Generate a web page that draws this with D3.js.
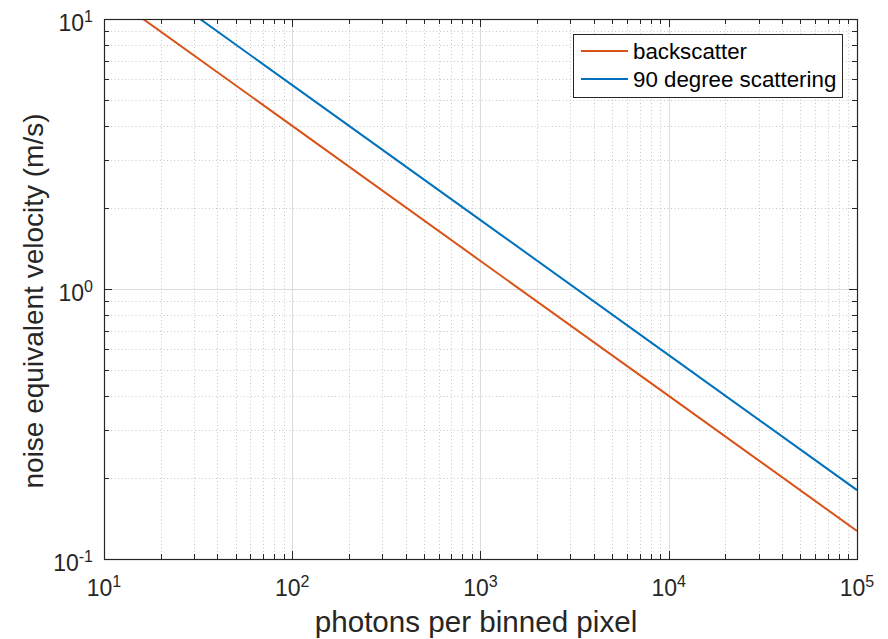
<!DOCTYPE html>
<html><head><meta charset="utf-8">
<script src="https://cdn.jsdelivr.net/npm/d3@7"></script>
<style>
html,body{margin:0;padding:0;background:#fff;}
svg{display:block;font-family:"Liberation Sans",Arial,sans-serif;}
</style></head>
<body><svg id="chart" width="888" height="639"></svg>
<script>
// data
const photons = [10, 100, 1000, 10000, 100000];
const backscatter = [12.7, 4.02, 1.27, 0.402, 0.127];
const scattering90 = [18.0, 5.69, 1.80, 0.569, 0.180];
const seriesNames = ["backscatter", "90 degree scattering"];
const seriesColors = ["#D95319", "#0072BD"];
const xTickExps = [1, 2, 3, 4, 5];
const yTickExps = [-1, 0, 1];

const W = 888, H = 639;
const m = {left: 104, right: 857, top: 19, bottom: 559};
const svg = d3.select("#chart");
const x = d3.scaleLog().domain([10, 1e5]).range([m.left, m.right]);
const y = d3.scaleLog().domain([0.1, 10]).range([m.bottom, m.top]);
const axisColor = "#262626";

// minor values
const xMinor = [], yMinor = [];
for (let e = 1; e < 5; e++) for (let k = 2; k <= 9; k++) xMinor.push(k * Math.pow(10, e));
for (let e = -1; e < 1; e++) for (let k = 2; k <= 9; k++) yMinor.push(k * Math.pow(10, e));
const xMajor = xTickExps.map(e => Math.pow(10, e));
const yMajor = yTickExps.map(e => Math.pow(10, e));

const g = svg.append("g");
// minor grid
g.selectAll(".xmg").data(xMinor).enter().append("line")
  .attr("x1", d => Math.round(x(d)) + 0.5).attr("x2", d => Math.round(x(d)) + 0.5)
  .attr("y1", m.top).attr("y2", m.bottom)
  .attr("stroke", "#c8c8c8").attr("stroke-width", 1).attr("stroke-dasharray", "1,2.5");
g.selectAll(".ymg").data(yMinor).enter().append("line")
  .attr("y1", d => Math.round(y(d)) + 0.5).attr("y2", d => Math.round(y(d)) + 0.5)
  .attr("x1", m.left).attr("x2", m.right)
  .attr("stroke", "#c8c8c8").attr("stroke-width", 1).attr("stroke-dasharray", "1,2.5");
// major grid
g.selectAll(".xMg").data(xMajor).enter().append("line")
  .attr("x1", d => Math.round(x(d)) + 0.5).attr("x2", d => Math.round(x(d)) + 0.5)
  .attr("y1", m.top).attr("y2", m.bottom)
  .attr("stroke", "#dcdcdc").attr("stroke-width", 1);
g.selectAll(".yMg").data(yMajor).enter().append("line")
  .attr("y1", d => Math.round(y(d)) + 0.5).attr("y2", d => Math.round(y(d)) + 0.5)
  .attr("x1", m.left).attr("x2", m.right)
  .attr("stroke", "#dcdcdc").attr("stroke-width", 1);

// data lines
svg.append("clipPath").attr("id", "clip").append("rect")
  .attr("x", m.left).attr("y", m.top).attr("width", m.right - m.left).attr("height", m.bottom - m.top);
const line = d3.line().x(d => x(d[0])).y(d => y(d[1]));
const series = [backscatter, scattering90];
series.forEach((vals, i) => {
  svg.append("path").attr("clip-path", "url(#clip)")
    .datum(photons.map((p, j) => [p, vals[j]]))
    .attr("d", line).attr("fill", "none")
    .attr("stroke", seriesColors[i]).attr("stroke-width", 2);
});

// ticks (inward, all four sides)
const tk = svg.append("g").attr("stroke", axisColor).attr("stroke-width", 1);
function xt(vals, len) {
  vals.forEach(v => {
    const px = Math.round(x(v)) + 0.5;
    tk.append("line").attr("x1", px).attr("x2", px).attr("y1", m.bottom).attr("y2", m.bottom - len);
    tk.append("line").attr("x1", px).attr("x2", px).attr("y1", m.top).attr("y2", m.top + len);
  });
}
function yt(vals, len) {
  vals.forEach(v => {
    const py = Math.round(y(v)) + 0.5;
    tk.append("line").attr("y1", py).attr("y2", py).attr("x1", m.left).attr("x2", m.left + len);
    tk.append("line").attr("y1", py).attr("y2", py).attr("x1", m.right).attr("x2", m.right - len);
  });
}
xt(xMinor, 5); xt(xMajor, 8); yt(yMinor, 5); yt(yMajor, 8);

// frame
svg.append("rect").attr("x", m.left + 0.5).attr("y", m.top + 0.5)
  .attr("width", m.right - m.left).attr("height", m.bottom - m.top)
  .attr("fill", "none").attr("stroke", axisColor).attr("stroke-width", 1.2);

// tick labels
const lab = svg.append("g").attr("fill", axisColor);
xTickExps.forEach(e => {
  const t = lab.append("text").attr("x", x(Math.pow(10, e))).attr("y", 596)
    .attr("text-anchor", "middle").attr("font-size", 23);
  t.append("tspan").text("10");
  t.append("tspan").attr("font-size", 16).attr("dy", -9.5).text(String(e));
});
yTickExps.forEach(e => {
  const t = lab.append("text").attr("x", 93).attr("y", y(Math.pow(10, e)) + 12)
    .attr("text-anchor", "end").attr("font-size", 23);
  t.append("tspan").text("10");
  t.append("tspan").attr("font-size", 16).attr("dy", -9.5).text(String(e));
});

// axis labels
svg.append("text").attr("x", 476).attr("y", 632)
  .attr("text-anchor", "middle").attr("font-size", 29.6).attr("fill", axisColor)
  .text("photons per binned pixel");
svg.append("text").attr("transform", `translate(43,301) rotate(-90)`)
  .attr("text-anchor", "middle").attr("font-size", 28).attr("fill", axisColor)
  .text("noise equivalent velocity (m/s)");

// legend
const lg = svg.append("g");
lg.append("rect").attr("x", 573.5).attr("y", 34.5).attr("width", 269).attr("height", 63)
  .attr("fill", "#fff").attr("stroke", axisColor).attr("stroke-width", 1);
seriesNames.forEach((n, i) => {
  const yy = 51 + i * 28;
  lg.append("line").attr("x1", 581).attr("x2", 628).attr("y1", yy).attr("y2", yy)
    .attr("stroke", seriesColors[i]).attr("stroke-width", 2);
  lg.append("text").attr("x", 633).attr("y", yy + 7.5).attr("font-size", 22.3)
    .attr("fill", "#000").text(n);
});
</script></body></html>
